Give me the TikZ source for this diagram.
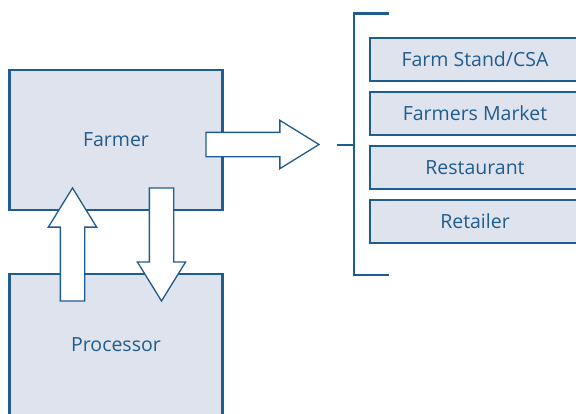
\documentclass[tikz,border=0pt]{standalone}
\usepackage{fontspec}
\setmainfont{Open Sans}
\usetikzlibrary{shapes.arrows,positioning}
\definecolor{chainblue}{HTML}{1F5C8F}
\definecolor{chainfill}{HTML}{DFE3EE}

\begin{document}
\begin{tikzpicture}[
    x=1pt, y=-1pt,
    font=\fontsize{19.5}{23}\selectfont,
    box/.style={draw=chainblue, fill=chainfill, line width=2.5pt,
      text=chainblue, outer sep=0pt, inner sep=0pt},
    actor/.style={box, minimum width=213pt, minimum height=140pt},
    outlet/.style={box, minimum width=210pt, minimum height=43pt},
    flowarrow/.style={single arrow, draw=chainblue, fill=white, line width=1.3pt,
      inner xsep=0pt, inner ysep=11.5pt, outer sep=0pt, minimum height=113pt,
      single arrow head extend=12pt, single arrow tip angle=63.4},
    bracket/.style={draw=chainblue, line width=2.5pt}
  ]
    \clip (0,0) rectangle (576,413);

    \node[actor] (farmer) at (116,140) {Farmer};
    \node[actor, minimum height=142pt] (processor) at (116,345) {Processor};

    \node[outlet] (stand) at (475,59.5) {Farm Stand/CSA};
    \node[outlet, below=11pt of stand] (market) {Farmers Market};
    \node[outlet, below=11pt of market] (restaurant) {Restaurant};
    \node[outlet, below=11pt of restaurant] (retailer) {Retailer};

    \coordinate (fork) at (354,145);
    \draw[bracket] (389,13.5) -- (354,13.5) -- (354,275) -- (389,275);
    \draw[bracket] (fork) -- ++(-17,0);

    \node[flowarrow, anchor=tail] (tooutlets) at (206,144.5) {};
    \node[flowarrow, anchor=tail, rotate=90] (tofarmer) at (72.5,301) {};
    \node[flowarrow, anchor=tail, rotate=-90] (toprocessor) at (161.5,188) {};
  \end{tikzpicture}
\end{document}
